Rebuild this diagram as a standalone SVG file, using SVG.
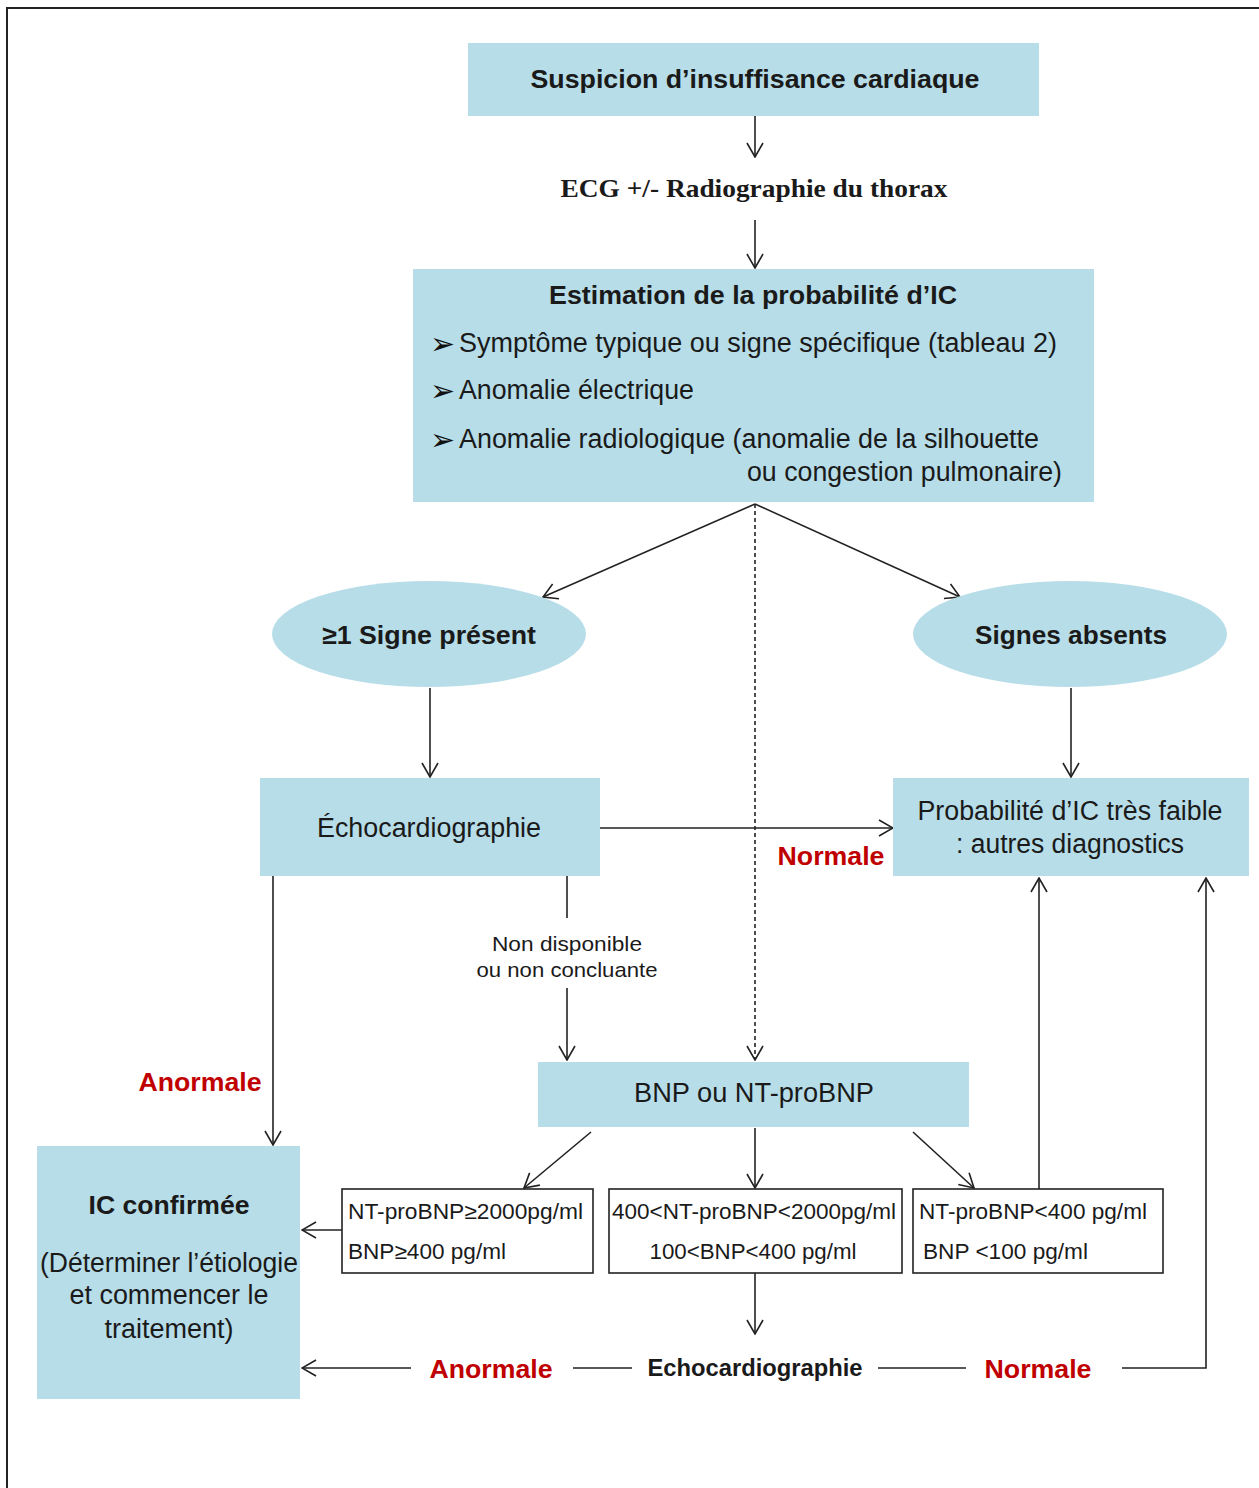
<svg xmlns="http://www.w3.org/2000/svg" width="1259" height="1488" viewBox="0 0 1259 1488">
<defs>
<marker id="ah" viewBox="0 0 16 18" refX="15" refY="9" markerWidth="16" markerHeight="18" markerUnits="userSpaceOnUse" orient="auto">
<path d="M1,1 L15,9 L1,17" fill="none" stroke="#222" stroke-width="1.6"/>
</marker>
</defs>
<style>
.box{fill:#b7dde8;}
.sbox{fill:#fff;stroke:#222;stroke-width:1.6;}
.t{font-family:"Liberation Sans",Arial,sans-serif;fill:#1a1a1a;}
.b{font-weight:bold;}
.red{fill:#c00000;font-weight:bold;font-family:"Liberation Sans",Arial,sans-serif;}
.ser{font-family:"Liberation Serif","Times New Roman",serif;font-weight:bold;fill:#1a1a1a;}
.ln{stroke:#222;stroke-width:1.6;fill:none;}
.bul{font-family:"DejaVu Sans",sans-serif;fill:#111;font-size:30px;}
</style>
<rect width="1259" height="1488" fill="#fff"/>
<path d="M7,1488 L7,8 L1259,8" fill="none" stroke="#222" stroke-width="2"/>

<g id="connectors">
<line class="ln" x1="755" y1="116" x2="755" y2="157" marker-end="url(#ah)"/>
<line class="ln" x1="755" y1="220" x2="755" y2="268" marker-end="url(#ah)"/>
<line class="ln" x1="755" y1="504" x2="543" y2="597" marker-end="url(#ah)"/>
<line class="ln" x1="755" y1="504" x2="960" y2="597" marker-end="url(#ah)"/>
<line class="ln" x1="755" y1="504" x2="755" y2="1060" stroke-dasharray="4,3" marker-end="url(#ah)"/>
<line class="ln" x1="430" y1="688" x2="430" y2="777" marker-end="url(#ah)"/>
<line class="ln" x1="1071" y1="688" x2="1071" y2="777" marker-end="url(#ah)"/>
<line class="ln" x1="600" y1="828" x2="893" y2="828" marker-end="url(#ah)"/>
<line class="ln" x1="273" y1="876" x2="273" y2="1145" marker-end="url(#ah)"/>
<line class="ln" x1="567" y1="876" x2="567" y2="918"/>
<line class="ln" x1="567" y1="988" x2="567" y2="1060" marker-end="url(#ah)"/>
<line class="ln" x1="591" y1="1132" x2="524" y2="1188" marker-end="url(#ah)"/>
<line class="ln" x1="755" y1="1128" x2="755" y2="1188" marker-end="url(#ah)"/>
<line class="ln" x1="913" y1="1132" x2="974" y2="1188" marker-end="url(#ah)"/>
<line class="ln" x1="342" y1="1230" x2="302" y2="1230" marker-end="url(#ah)"/>
<line class="ln" x1="1039" y1="1189" x2="1039" y2="878" marker-end="url(#ah)"/>
<line class="ln" x1="755" y1="1273" x2="755" y2="1334" marker-end="url(#ah)"/>
<line class="ln" x1="411" y1="1368" x2="302" y2="1368" marker-end="url(#ah)"/>
<line class="ln" x1="573" y1="1368" x2="632" y2="1368"/>
<line class="ln" x1="878" y1="1368" x2="966" y2="1368"/>
<polyline class="ln" points="1122,1368 1206,1368 1206,878" marker-end="url(#ah)"/>
<text class="red" x="831" y="865" font-size="26" text-anchor="middle" textLength="107" lengthAdjust="spacingAndGlyphs">Normale</text>
<text class="red" x="200" y="1091" font-size="26" text-anchor="middle" textLength="123" lengthAdjust="spacingAndGlyphs">Anormale</text>
<text class="t" x="567" y="951" font-size="21" text-anchor="middle" textLength="150" lengthAdjust="spacingAndGlyphs">Non disponible</text>
<text class="t" x="567" y="977" font-size="21" text-anchor="middle" textLength="181" lengthAdjust="spacingAndGlyphs">ou non concluante</text>
<text class="red" x="491" y="1378" font-size="26" text-anchor="middle" textLength="123" lengthAdjust="spacingAndGlyphs">Anormale</text>
<text class="t b" x="755" y="1376" font-size="24" text-anchor="middle" textLength="215" lengthAdjust="spacingAndGlyphs">Echocardiographie</text>
<text class="red" x="1038" y="1378" font-size="26" text-anchor="middle" textLength="107" lengthAdjust="spacingAndGlyphs">Normale</text>
</g>

<g id="n-suspicion">
<rect class="box" x="468" y="43" width="571" height="73"/>
<text class="t b" x="755" y="88" font-size="25" text-anchor="middle" textLength="449" lengthAdjust="spacingAndGlyphs">Suspicion d’insuffisance cardiaque</text>
</g>

<g id="n-ecg">
<text class="ser" x="754" y="197" font-size="25" text-anchor="middle" textLength="387" lengthAdjust="spacingAndGlyphs">ECG +/- Radiographie du thorax</text>
</g>

<g id="n-estimation">
<rect class="box" x="413" y="269" width="681" height="233"/>
<text class="t b" x="753" y="304" font-size="26" text-anchor="middle" textLength="408" lengthAdjust="spacingAndGlyphs">Estimation de la probabilité d’IC</text>
<text class="bul" x="430" y="354">➢</text>
<text class="t" x="459" y="352" font-size="27" textLength="598" lengthAdjust="spacingAndGlyphs">Symptôme typique ou signe spécifique (tableau 2)</text>
<text class="bul" x="430" y="401">➢</text>
<text class="t" x="459" y="399" font-size="27" textLength="235" lengthAdjust="spacingAndGlyphs">Anomalie électrique</text>
<text class="bul" x="430" y="450">➢</text>
<text class="t" x="459" y="448" font-size="27" textLength="580" lengthAdjust="spacingAndGlyphs">Anomalie radiologique  (anomalie de la silhouette</text>
<text class="t" x="747" y="481" font-size="27" textLength="315" lengthAdjust="spacingAndGlyphs">ou congestion pulmonaire)</text>
</g>

<g id="n-signe-present">
<ellipse class="box" cx="429" cy="634" rx="157" ry="53"/>
<text class="t b" x="429" y="644" font-size="26" text-anchor="middle" textLength="214" lengthAdjust="spacingAndGlyphs">≥1 Signe présent</text>
</g>

<g id="n-signes-absents">
<ellipse class="box" cx="1070" cy="634" rx="157" ry="53"/>
<text class="t b" x="1071" y="644" font-size="26" text-anchor="middle" textLength="192" lengthAdjust="spacingAndGlyphs">Signes absents</text>
</g>

<g id="n-echo">
<rect class="box" x="260" y="778" width="340" height="98"/>
<text class="t" x="429" y="837" font-size="27" text-anchor="middle" textLength="224" lengthAdjust="spacingAndGlyphs">Échocardiographie</text>
</g>

<g id="n-proba">
<rect class="box" x="893" y="778" width="356" height="98"/>
<text class="t" x="1070" y="820" font-size="27" text-anchor="middle" textLength="305" lengthAdjust="spacingAndGlyphs">Probabilité d’IC très faible</text>
<text class="t" x="1070" y="853" font-size="27" text-anchor="middle" textLength="228" lengthAdjust="spacingAndGlyphs">: autres diagnostics</text>
</g>

<g id="n-bnp">
<rect class="box" x="538" y="1062" width="431" height="65"/>
<text class="t" x="754" y="1102" font-size="27" text-anchor="middle" textLength="240" lengthAdjust="spacingAndGlyphs">BNP ou NT-proBNP</text>
</g>

<g id="n-high">
<rect class="sbox" x="342" y="1189" width="251" height="84"/>
<text class="t" x="348" y="1219" font-size="22" textLength="235" lengthAdjust="spacingAndGlyphs">NT-proBNP≥2000pg/ml</text>
<text class="t" x="348" y="1259" font-size="22" textLength="158" lengthAdjust="spacingAndGlyphs">BNP≥400 pg/ml</text>
</g>

<g id="n-mid">
<rect class="sbox" x="609" y="1189" width="293" height="84"/>
<text class="t" x="612" y="1219" font-size="22" textLength="284" lengthAdjust="spacingAndGlyphs">400&lt;NT-proBNP&lt;2000pg/ml</text>
<text class="t" x="753" y="1259" font-size="22" text-anchor="middle" textLength="207" lengthAdjust="spacingAndGlyphs">100&lt;BNP&lt;400 pg/ml</text>
</g>

<g id="n-low">
<rect class="sbox" x="913" y="1189" width="250" height="84"/>
<text class="t" x="919" y="1219" font-size="22" textLength="228" lengthAdjust="spacingAndGlyphs">NT-proBNP&lt;400 pg/ml</text>
<text class="t" x="923" y="1259" font-size="22" textLength="165" lengthAdjust="spacingAndGlyphs">BNP &lt;100 pg/ml</text>
</g>

<g id="n-ic">
<rect class="box" x="37" y="1146" width="263" height="253"/>
<text class="t b" x="169" y="1214" font-size="26" text-anchor="middle" textLength="161" lengthAdjust="spacingAndGlyphs">IC confirmée</text>
<text class="t" x="169" y="1272" font-size="27" text-anchor="middle" textLength="258" lengthAdjust="spacingAndGlyphs">(Déterminer l’étiologie</text>
<text class="t" x="169" y="1304" font-size="27" text-anchor="middle" textLength="199" lengthAdjust="spacingAndGlyphs">et commencer le</text>
<text class="t" x="169" y="1338" font-size="27" text-anchor="middle" textLength="129" lengthAdjust="spacingAndGlyphs">traitement)</text>
</g>
</svg>
